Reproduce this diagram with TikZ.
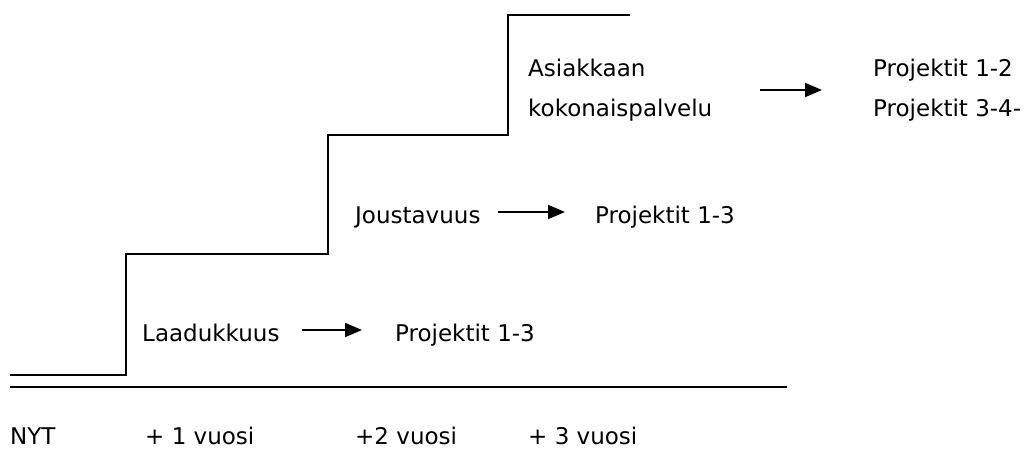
\documentclass[tikz,border=0pt]{standalone}
\usepackage{fontspec}
\setmainfont{DejaVu Sans}
\usetikzlibrary{arrows.meta}
\tikzset{
  porras/.style={line width=2.6pt},
  teksti/.style={inner sep=0pt,font=\fontsize{23}{40}\selectfont},
  rivi/.style={teksti,anchor=base west,text height=22pt,text depth=0pt},
  nuoli/.style={line width=2pt,-{Triangle[length=17pt,width=14pt]}},
}
\begin{document}
\begin{tikzpicture}[x=1pt,y=-1pt]
  \useasboundingbox (0,0) rectangle (1036,450);
  % portaat
  \draw[porras] (10,375) -- (126,375) -- (126,254) -- (328,254) -- (328,135)
    -- (508,135) -- (508,15) -- (630,15);
  % aika-akseli
  \draw[porras] (10,387) -- (787,387);
  \node[rivi] (nyt) at (10,444) {NYT};
  \node[rivi] (v1) at (145,444) {+ 1 vuosi};
  \node[rivi] (v2) at (355,444) {+2 vuosi};
  \node[rivi] (v3) at (528,444) {+ 3 vuosi};
  % askeleet
  \node[rivi] (laatu) at (142,341) {Laadukkuus};
  \node[rivi] (proj1) at (395,341) {Projektit 1-3};
  \draw[nuoli,shorten <=22pt,shorten >=33pt] (laatu) -- (proj1);
  \node[rivi] (jousto) at (355,223) {Joustavuus};
  \node[rivi] (proj2) at (595,223) {Projektit 1-3};
  \draw[nuoli,shorten <=17pt,shorten >=30pt] (jousto) -- (proj2);
  \node[teksti,anchor=west,align=left] (asiakas) at (528,90) {Asiakkaan\\kokonaispalvelu};
  \node[teksti,anchor=west,align=left] (proj3) at (873,90) {Projektit 1-2\\Projektit 3-4-};
  \draw[nuoli,shorten <=48pt,shorten >=51pt] (asiakas) -- (proj3);
\end{tikzpicture}
\end{document}
